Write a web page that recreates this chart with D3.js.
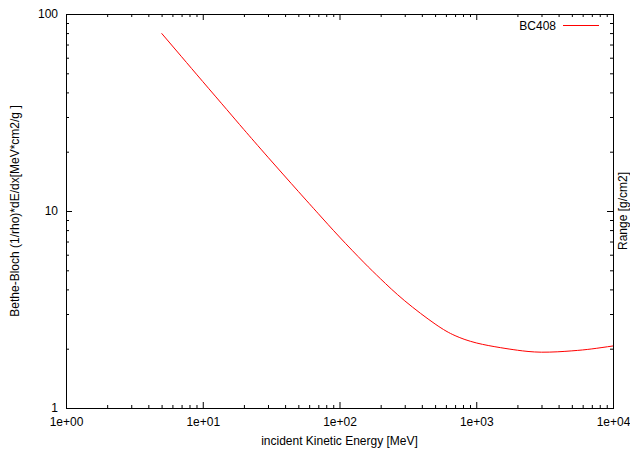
<!DOCTYPE html>
<html>
<head>
<meta charset="utf-8">
<script src="https://cdn.jsdelivr.net/npm/d3@7"></script>
<style>
  html, body { margin: 0; padding: 0; background: #fff; }
  svg text { font-family: "Liberation Sans", Arial, Helvetica, sans-serif; font-size: 12px; fill: #000; }
</style>
</head>
<body>
<svg id="chart" width="630" height="451"></svg>
<script>
// Data (incident kinetic energy in MeV, stopping power in MeV*cm2/g)
const energy = [5, 7, 10, 15, 20, 30, 50, 70, 100, 150, 200, 300, 500, 700, 1000, 1500, 2000, 3000, 5000, 7000, 10000];
const dedx   = [79.8, 60.7, 45.4, 32.7, 25.9, 18.75, 12.57, 9.69, 7.38, 5.50, 4.52, 3.50, 2.67, 2.33, 2.14, 2.025, 1.965, 1.92, 1.95, 1.995, 2.065];
const seriesName = "BC408";
const xTickValues = [1, 10, 100, 1000, 10000];
const xTickLabels = ["1e+00", "1e+01", "1e+02", "1e+03", "1e+04"];
const yTickValues = [1, 10, 100];
const yTickLabels = ["1", "10", "100"];
const xTitle = "incident Kinetic Energy [MeV]";
const yTitle = "Bethe-Bloch (1/rho)*dE/dx[MeV*cm2/g ]";
const y2Title = "Range [g/cm2]";

const L = 66, R = 613, T = 14, B = 408;
const svg = d3.select("#chart");
const x = d3.scaleLog().domain([1, 10000]).range([L, R]);
const y = d3.scaleLog().domain([1, 100]).range([B, T]);

function minors(domain) {
  const out = [];
  for (let d = domain[0]; d < domain[1]; d *= 10)
    for (let k = 2; k <= 9; k++) out.push(d * k);
  return out;
}
const xMinor = minors([1, 10000]);
const yMinor = minors([1, 100]);

function styleAxis(g) {
  g.select(".domain").remove();
  g.selectAll("line").attr("stroke", "#000").attr("stroke-width", 1);
}

// bottom
svg.append("g").attr("transform", `translate(0,${B})`)
  .call(d3.axisBottom(x).tickValues(xTickValues).tickSizeInner(-6).tickSizeOuter(0).tickPadding(9)
    .tickFormat((d, i) => xTickLabels[i]))
  .call(styleAxis);
svg.append("g").attr("transform", `translate(0,${B})`)
  .call(d3.axisBottom(x).tickValues(xMinor).tickSizeInner(-3).tickSizeOuter(0).tickFormat(""))
  .call(styleAxis);
// top (mirror)
svg.append("g").attr("transform", `translate(0,${T})`)
  .call(d3.axisTop(x).tickValues(xTickValues).tickSizeInner(-6).tickSizeOuter(0).tickFormat(""))
  .call(styleAxis);
svg.append("g").attr("transform", `translate(0,${T})`)
  .call(d3.axisTop(x).tickValues(xMinor).tickSizeInner(-3).tickSizeOuter(0).tickFormat(""))
  .call(styleAxis);
// left
svg.append("g").attr("transform", `translate(${L},0)`)
  .call(d3.axisLeft(y).tickValues(yTickValues).tickSizeInner(-6).tickSizeOuter(0).tickPadding(8)
    .tickFormat((d, i) => yTickLabels[i]))
  .call(styleAxis);
svg.append("g").attr("transform", `translate(${L},0)`)
  .call(d3.axisLeft(y).tickValues(yMinor).tickSizeInner(-3).tickSizeOuter(0).tickFormat(""))
  .call(styleAxis);
// right (mirror)
svg.append("g").attr("transform", `translate(${R},0)`)
  .call(d3.axisRight(y).tickValues(yTickValues).tickSizeInner(-6).tickSizeOuter(0).tickFormat(""))
  .call(styleAxis);
svg.append("g").attr("transform", `translate(${R},0)`)
  .call(d3.axisRight(y).tickValues(yMinor).tickSizeInner(-3).tickSizeOuter(0).tickFormat(""))
  .call(styleAxis);

// frame
svg.append("rect").attr("x", L + 0.5).attr("y", T + 0.5).attr("width", R - L).attr("height", B - T)
  .attr("fill", "none").attr("stroke", "#000").attr("stroke-width", 1);

// curve
const data = energy.map((e, i) => ({ e, v: dedx[i] }));
svg.append("path").datum(data)
  .attr("fill", "none").attr("stroke", "#ff0000").attr("stroke-width", 1)
  .attr("d", d3.line().x(d => x(d.e)).y(d => y(d.v)).curve(d3.curveNatural));

// titles
svg.append("text").attr("x", (L + R) / 2).attr("y", 445).attr("text-anchor", "middle").text(xTitle);
svg.append("text").attr("transform", `translate(19,${(T + B) / 2}) rotate(-90)`).attr("text-anchor", "middle").text(yTitle);
svg.append("text").attr("transform", `translate(627,${(T + B) / 2}) rotate(-90)`).attr("text-anchor", "middle").text(y2Title);

// legend
svg.append("text").attr("x", 556).attr("y", 30).attr("text-anchor", "end").text(seriesName);
svg.append("line").attr("x1", 563).attr("x2", 599).attr("y1", 25.5).attr("y2", 25.5)
  .attr("stroke", "#ff0000").attr("stroke-width", 1);
</script>
</body>
</html>
